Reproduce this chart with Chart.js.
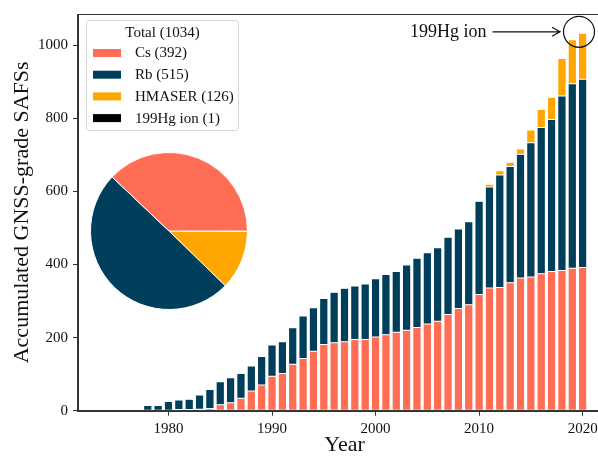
<!DOCTYPE html>
<html>
<head>
<meta charset="utf-8">
<title>Accumulated GNSS-grade SAFSs</title>
<script src="https://cdn.jsdelivr.net/npm/chart.js@4/dist/chart.umd.min.js"></script>
<style>
  html, body { margin: 0; padding: 0; background: #ffffff; overflow: hidden; }
  #wrap { position: relative; width: 598px; height: 458px; overflow: hidden; }
  #main { position: absolute; left: 0; top: 0; width: 620px; height: 458px; }
  #pie { position: absolute; left: 90px; top: 152px; width: 158px; height: 158px; }
</style>
</head>
<body>
<div id="wrap">
  <canvas id="main" width="620" height="458"></canvas>
  <canvas id="pie" width="158" height="158"></canvas>
</div>
<script>
// Accumulated number of clocks per year, by clock type
const years = [1978, 1979, 1980, 1981, 1982, 1983, 1984, 1985, 1986, 1987,
               1988, 1989, 1990, 1991, 1992, 1993, 1994, 1995, 1996, 1997,
               1998, 1999, 2000, 2001, 2002, 2003, 2004, 2005, 2006, 2007,
               2008, 2009, 2010, 2011, 2012, 2013, 2014, 2015, 2016, 2017,
               2018, 2019, 2020];

const cs = [0, 0, 1, 3, 3, 4, 6, 16, 22, 34,
            54, 70, 94, 102, 127, 143, 163, 181, 186, 189,
            195, 195, 202, 208, 215, 220, 228, 237, 245, 263,
            280, 290, 318, 336, 337, 350, 363, 366, 375, 381,
            384, 390, 392];

const rb = [14, 14, 24, 26, 28, 39, 52, 63, 68, 68,
            68, 78, 86, 87, 100, 116, 119, 126, 138, 146,
            146, 152, 159, 165, 166, 179, 189, 195, 201, 212,
            217, 227, 255, 276, 308, 318, 339, 367, 400, 416,
            477, 505, 515];

const hmaser = [0, 0, 0, 0, 0, 0, 0, 0, 0, 0,
                0, 0, 0, 0, 0, 0, 0, 0, 0, 0,
                0, 0, 0, 0, 0, 0, 0, 0, 0, 0,
                0, 0, 0, 8, 12, 12, 14, 35, 49, 61,
                103, 120, 126];

const hgIon = [0, 0, 0, 0, 0, 0, 0, 0, 0, 0,
               0, 0, 0, 0, 0, 0, 0, 0, 0, 0,
               0, 0, 0, 0, 0, 0, 0, 0, 0, 0,
               0, 0, 0, 0, 0, 0, 0, 0, 0, 0,
               0, 0, 1];

const xTicks = [1980, 1990, 2000, 2010, 2020];
const yTicks = [0, 200, 400, 600, 800, 1000];

const FONT = '"Liberation Serif", "Times New Roman", serif';
const COLORS = { cs: '#ff6e54', rb: '#003f5c', hmaser: '#ffa600', hg: '#000000' };

const last = arr => arr[arr.length - 1];
const series = [
  { name: 'Cs', values: cs, color: COLORS.cs },
  { name: 'Rb', values: rb, color: COLORS.rb },
  { name: 'HMASER', values: hmaser, color: COLORS.hmaser },
  { name: '199Hg ion', values: hgIon, color: COLORS.hg }
];
const total = series.reduce((s, d) => s + last(d.values), 0);

// Box around the whole plotting area (all four spines)
const frame = {
  id: 'frame',
  afterDatasetsDraw(chart) {
    const { ctx, chartArea: a } = chart;
    ctx.save();
    ctx.strokeStyle = '#333333';
    ctx.lineWidth = 1;
    ctx.strokeRect(Math.round(a.left) - 0.5, Math.round(a.top) + 0.5,
                   Math.round(a.right - a.left), Math.round(a.bottom - a.top));
    ctx.restore();
  }
};

// Framed legend in the upper-left corner of the plot, with the total as title
const legendBox = {
  id: 'legendBox',
  afterDraw(chart) {
    const { ctx, chartArea: a } = chart;
    const x = a.left + 8.5, y = a.top + 6.5, w = 152, h = 110;
    ctx.save();
    ctx.fillStyle = 'rgba(255,255,255,0.85)';
    ctx.strokeStyle = '#d6d6d6';
    ctx.lineWidth = 1;
    ctx.beginPath();
    ctx.roundRect(x, y, w, h, 3);
    ctx.fill();
    ctx.stroke();
    ctx.font = '15px ' + FONT;
    ctx.textBaseline = 'middle';
    ctx.fillStyle = '#111111';
    ctx.textAlign = 'center';
    ctx.fillText('Total (' + total + ')', x + w / 2, y + 13);
    ctx.textAlign = 'left';
    chart.data.datasets.forEach((ds, i) => {
      const cy = y + 32.5 + i * 21.7;
      ctx.fillStyle = ds.backgroundColor;
      ctx.fillRect(x + 6.5, cy - 4, 28, 8);
      ctx.fillStyle = '#111111';
      ctx.fillText(ds.label, x + 48.5, cy + 0.5);
    });
    ctx.restore();
  }
};

// Callout pointing at the single mercury-ion clock on the last bar
const hgNote = {
  id: 'hgNote',
  afterDraw(chart) {
    const { ctx } = chart;
    const xs = chart.scales.x, ys = chart.scales.y;
    const cx = xs.getPixelForValue(2019.65);
    const cy = ys.getPixelForValue(1037);
    const r = 15.5;
    ctx.save();
    ctx.strokeStyle = '#111111';
    ctx.lineWidth = 1.2;
    ctx.beginPath();
    ctx.arc(cx, cy, r, 0, Math.PI * 2);
    ctx.stroke();
    // arrow
    const tipX = cx - r - 3.5, startX = cx - r - 71;
    ctx.beginPath();
    ctx.moveTo(startX, cy);
    ctx.lineTo(tipX, cy);
    ctx.moveTo(tipX - 8, cy - 4.5);
    ctx.lineTo(tipX, cy);
    ctx.lineTo(tipX - 8, cy + 4.5);
    ctx.stroke();
    ctx.fillStyle = '#111111';
    ctx.font = '18px ' + FONT;
    ctx.textAlign = 'right';
    ctx.textBaseline = 'middle';
    ctx.fillText('199Hg ion', startX - 6, cy);
    ctx.restore();
  }
};

const axisCommon = {
  stacked: true,
  grid: { drawOnChartArea: false, drawTicks: true, tickLength: 5, tickWidth: 1, tickColor: '#333333' },
  border: { display: true, color: '#333333', width: 1 }
};

new Chart(document.getElementById('main'), {
  type: 'bar',
  data: {
    datasets: series.map(s => ({
      label: s.name + ' (' + last(s.values) + ')',
      data: years.map((yr, i) => ({ x: yr, y: s.values[i] })),
      backgroundColor: s.color,
      borderColor: '#ffffff',
      borderWidth: 0.5,
      borderSkipped: false,
      barPercentage: 1.0,
      categoryPercentage: 0.8
    }))
  },
  options: {
    responsive: false,
    animation: false,
    events: [],
    layout: { padding: { left: 0, right: 9, top: 12.6, bottom: 0 } },
    plugins: { legend: { display: false }, tooltip: { enabled: false } },
    scales: {
      x: {
        ...axisCommon,
        type: 'linear',
        offset: false,
        min: 1971.26,
        max: 2022.74,
        grid: { ...axisCommon.grid, offset: false },
        ticks: {
          font: { family: FONT, size: 15 },
          color: '#111111',
          padding: 4,
          maxRotation: 0,
          autoSkip: false,
          callback: v => String(v)
        },
        afterBuildTicks: s => { s.ticks = xTicks.map(v => ({ value: v })); },
        afterFit: s => { s.height = 47.3; },
        title: {
          display: true, text: 'Year', color: '#111111',
          font: { family: FONT, size: 22, lineHeight: 1.2 },
          padding: { top: 0, bottom: 0 }
        }
      },
      y: {
        ...axisCommon,
        min: 0,
        max: 1085.7,
        ticks: {
          font: { family: FONT, size: 15 },
          color: '#111111',
          padding: 5,
          callback: v => String(v)
        },
        afterBuildTicks: s => { s.ticks = yTicks.map(v => ({ value: v })); },
        afterFit: s => { s.width = 78; },
        title: {
          display: true, text: 'Accumulated GNSS-grade SAFSs', color: '#111111',
          font: { family: FONT, size: 22, lineHeight: 1.2 },
          padding: { top: 9, bottom: 0 }
        }
      }
    }
  },
  plugins: [frame, legendBox, hgNote]
});

// Share of each clock type in the final total, drawn as an inset pie
const pieOrder = [series[3], series[2], series[1], series[0]];
new Chart(document.getElementById('pie'), {
  type: 'pie',
  data: {
    labels: pieOrder.map(s => s.name),
    datasets: [{
      data: pieOrder.map(s => last(s.values)),
      backgroundColor: pieOrder.map(s => s.color),
      borderColor: '#ffffff',
      borderWidth: 1
    }]
  },
  options: {
    responsive: false,
    animation: false,
    events: [],
    rotation: 90,
    layout: { padding: 0 },
    plugins: { legend: { display: false }, tooltip: { enabled: false } }
  }
});
</script>
</body>
</html>
